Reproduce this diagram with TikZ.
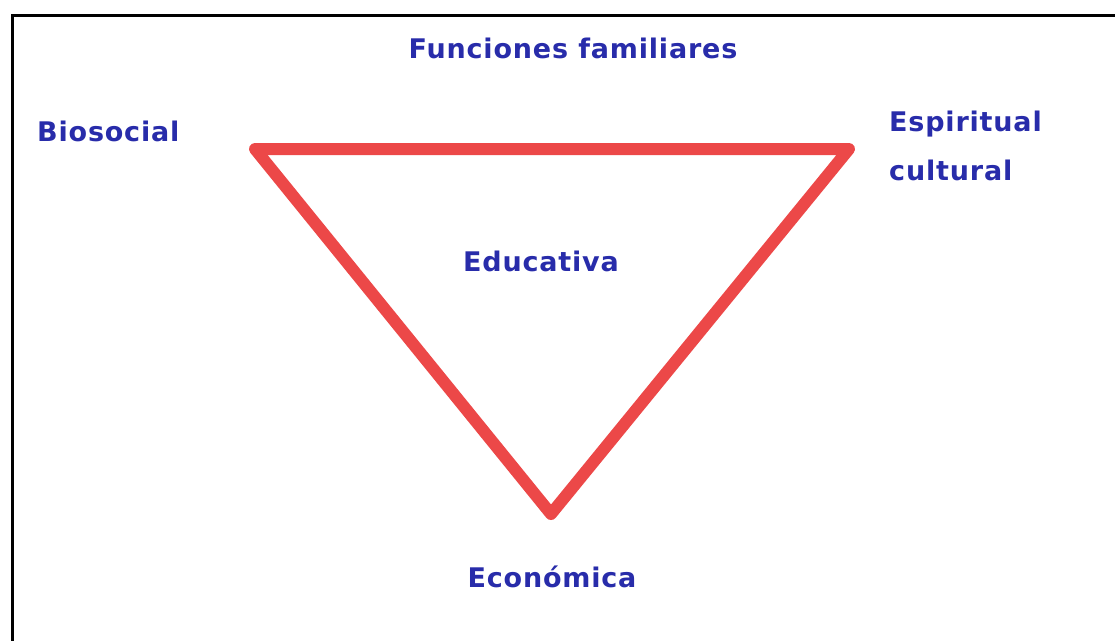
\documentclass[tikz,border=0pt]{standalone}
\usepackage{fontspec}
\setmainfont{DejaVu Sans}[LetterSpace=3]
\definecolor{lblue}{RGB}{40,44,170}
\definecolor{tred}{RGB}{236,72,72}
\begin{document}
\begin{tikzpicture}[x=1pt,y=-1pt,
  lbl/.style={text=lblue,font=\fontsize{27}{49}\selectfont\bfseries,inner sep=0pt,align=left},
  tri/.style={draw=tred,line width=12pt,line join=round,line cap=round},
  frame/.style={draw=black,line width=3pt}]
\useasboundingbox (0,0) rectangle (1115,640);
\coordinate (fb) at (12,645);
\coordinate (fc) at (12,15);
\coordinate (fr) at (1120,15);
\draw[frame] (fb) -- (fc) -- (fr);
\coordinate (A) at (255,149);
\coordinate (B) at (849,149);
\coordinate (C) at (551,514);
\draw[tri] (A) -- (B) -- (C) -- cycle;
\node[lbl] (title) at (573,48) {Funciones familiares};
\node[lbl,anchor=west] (bio) at (37,131) {Biosocial};
\node[lbl,anchor=north west] (esp) at (889,111) {Espiritual\\cultural};
\node[lbl] (edu) at (541,261) {Educativa};
\node[lbl] (eco) at (552,577) {Económica};
\end{tikzpicture}
\end{document}
